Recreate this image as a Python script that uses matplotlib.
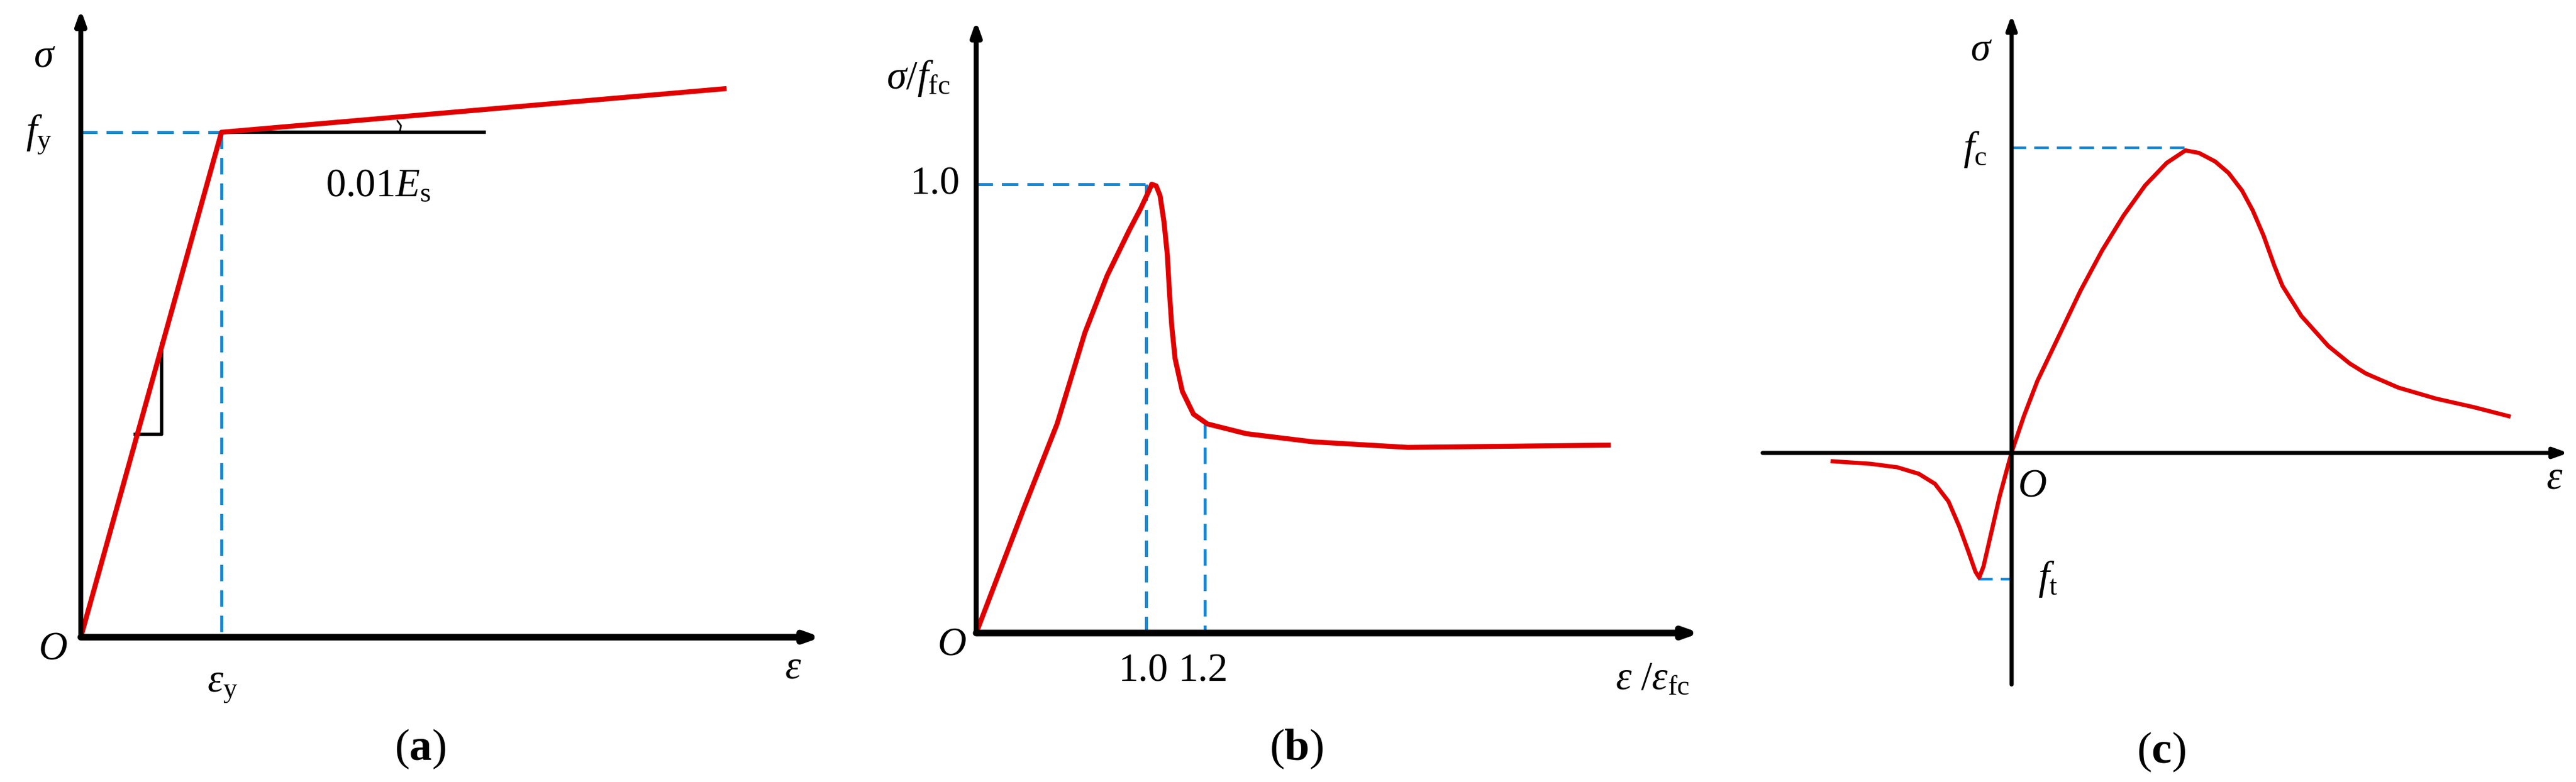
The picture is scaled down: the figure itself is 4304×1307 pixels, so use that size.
import matplotlib.pyplot as plt

plt.rcParams['font.family'] = ['Liberation Serif', 'DejaVu Serif']
plt.rcParams['mathtext.fontset'] = 'custom'
plt.rcParams['mathtext.rm'] = 'Liberation Serif'
plt.rcParams['mathtext.it'] = 'Liberation Serif:italic'
plt.rcParams['mathtext.bf'] = 'Liberation Serif:bold'

RED = '#e00000'
BLUE = '#1a86d0'

# all values are read off the picture, in image pixels (y grows downwards)
# panel (a): bilinear steel model
a_curve_x = [135, 370, 1214]
a_curve_y = [1065, 221, 148]
a_tri_x = [226, 270, 270]
a_tri_y = [726, 726, 575]

# panel (b): normalised concrete model (first points in image px, rest in crop coords)
b_zx = [280, 340, 365, 390, 430, 470, 490, 505, 510, 518, 525, 532, 538, 542, 546,
        552, 565, 585, 610, 680, 800, 970]
b_zy = [1560, 1300, 1160, 1020, 845, 705, 640, 585, 565, 570, 600, 680, 780, 900, 1000,
        1100, 1200, 1270, 1300, 1330, 1355, 1372]
b_curve_x = [1631] + [1450 + 0.93 * v for v in b_zx] + [2687]
b_curve_y = [1058] + [0.545 * v for v in b_zy] + [744]

# panel (c): concrete in tension and compression (crop coords)
c_zx = [180, 250, 300, 340, 370, 395, 415, 432, 445, 452, 460, 475, 490, 512,
        535, 560, 600, 640, 680, 720, 760, 800, 835, 860, 890, 915, 940, 960,
        980, 1000, 1015, 1050, 1100, 1140, 1170, 1230, 1300, 1370, 1435]
c_zy = [920, 925, 932, 945, 965, 1000, 1050, 1100, 1140, 1152, 1130, 1060, 990, 903,
        830, 760, 670, 580, 500, 430, 370, 325, 300, 305, 322, 345, 380, 420,
        470, 530, 570, 630, 690, 725, 745, 773, 795, 812, 830]
c_curve_x = [2900 + 0.9 * v for v in c_zx]
c_curve_y = [0.838 * v for v in c_zy]

fig = plt.figure(figsize=(43.04, 13.07), dpi=100)
ax = fig.add_axes([0, 0, 1, 1])
ax.set_xlim(0, 4304)
ax.set_ylim(1307, 0)
ax.set_axis_off()


def arrow_axis(x0, y0, x1, y1, lw=6):
    ax.annotate('', xy=(x1, y1), xytext=(x0, y0),
                arrowprops=dict(arrowstyle='-|>,head_length=1.4,head_width=0.5',
                                color='black', lw=lw, shrinkA=0, shrinkB=0))


def dashed(xs, ys, lw=3.6):
    ax.plot(xs, ys, color=BLUE, lw=lw, dashes=(5.5, 3))


FS = 48

# ---- (a)
dashed([135, 370], [221, 221])
dashed([370, 370], [221, 1065])
ax.plot([370, 809], [221, 221], color='black', lw=4)
ax.plot(a_tri_x, a_tri_y, color='black', lw=4)
ax.plot([664, 670, 668], [202, 210, 220], color='black', lw=2)
ax.plot(a_curve_x, a_curve_y, color=RED, lw=6, solid_capstyle='butt')
arrow_axis(135, 1065, 135, 16)
arrow_axis(135, 1065, 1372, 1065, lw=8)
ax.text(74, 95, r'$\sigma$', fontsize=FS, ha='center', va='center')
ax.text(65, 225, r'$f_{\rm y}$', fontsize=FS, ha='center', va='center')
ax.text(632, 311, r'0.01$E_{\rm s}$', fontsize=FS, ha='center', va='center')
ax.text(88, 1085, r'$O$', fontsize=FS, ha='center', va='center')
ax.text(372, 1148, r'$\varepsilon_{\rm y}$', fontsize=FS, ha='center', va='center')
ax.text(1325, 1117, r'$\varepsilon$', fontsize=FS, ha='center', va='center')
ax.text(702, 1252, r'($\mathbf{a}$)', fontsize=FS + 6, ha='center', va='center')

# ---- (b)
dashed([1631, 1924], [308, 308])
dashed([1915, 1915], [308, 1058])
dashed([2013, 2013], [705, 1058])
ax.plot(b_curve_x, b_curve_y, color=RED, lw=6)
arrow_axis(1631, 1058, 1631, 35)
arrow_axis(1631, 1058, 2840, 1058, lw=8)
ax.text(1534, 131, r'$\sigma/f_{\rm fc}$', fontsize=FS, ha='center', va='center')
ax.text(1562, 308, '1.0', fontsize=FS, ha='center', va='center')
ax.text(1590, 1078, r'$O$', fontsize=FS, ha='center', va='center')
ax.text(1910, 1122, '1.0', fontsize=FS, ha='center', va='center')
ax.text(2010, 1122, '1.2', fontsize=FS, ha='center', va='center')
ax.text(2761, 1135, r'$\varepsilon\ /\varepsilon_{\rm fc}$', fontsize=FS, ha='center', va='center')
ax.text(2166, 1252, r'($\mathbf{b}$)', fontsize=FS + 6, ha='center', va='center')

# ---- (c)
dashed([3361, 3656], [247, 247], lw=3.2)
dashed([3305, 3361], [968, 968], lw=3.2)
ax.plot(c_curve_x, c_curve_y, color=RED, lw=5)
arrow_axis(3361, 1144, 3361, 25, lw=5)
arrow_axis(2945, 757, 4291, 757, lw=5)
ax.text(3310, 84, r'$\sigma$', fontsize=FS, ha='center', va='center')
ax.text(3300, 250, r'$f_{\rm c}$', fontsize=FS, ha='center', va='center')
ax.text(3395, 813, r'$O$', fontsize=FS, ha='center', va='center')
ax.text(4268, 800, r'$\varepsilon$', fontsize=FS, ha='center', va='center')
ax.text(3422, 968, r'$f_{\rm t}$', fontsize=FS, ha='center', va='center')
ax.text(3611, 1257, r'($\mathbf{c}$)', fontsize=FS + 6, ha='center', va='center')

fig.savefig('out.png', dpi=100)
